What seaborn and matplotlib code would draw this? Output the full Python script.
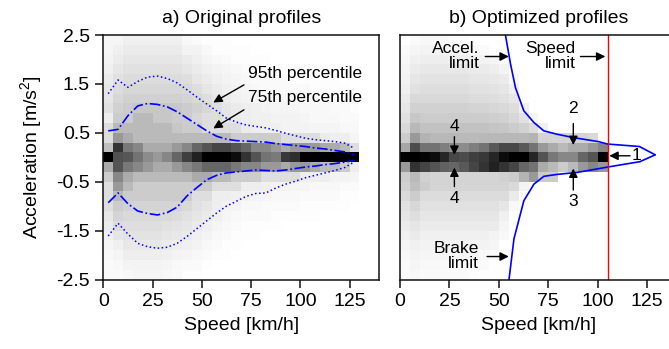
import numpy as np
import pandas as pd
import seaborn as sns
import matplotlib.pyplot as plt

# bin centres (5 km/h x 0.2 m/s2)
speed_bins = [2.5, 7.5, 12.5, 17.5, 22.5, 27.5, 32.5, 37.5, 42.5, 47.5, 52.5, 57.5, 62.5,
              67.5, 72.5, 77.5, 82.5, 87.5, 92.5, 97.5, 102.5, 107.5, 112.5, 117.5, 122.5, 127.5]
accel_bins = [2.4, 2.2, 2.0, 1.8, 1.6, 1.4, 1.2, 1.0, 0.8, 0.6, 0.4, 0.2, 0.0,
              -0.2, -0.4, -0.6, -0.8, -1.0, -1.2, -1.4, -1.6, -1.8, -2.0, -2.2, -2.4]

# shading of each cell (0 = white, 100 = black), rows follow accel_bins
orig_grid = [
    [4, 4, 6, 6, 6, 6, 6, 6, 3, 2, 1, 1, 1, 0, 0, 0, 0, 0, 0, 0, 0, 0, 0, 0, 0, 0],
    [4, 6, 8, 8, 8, 8, 8, 8, 5, 5, 3, 1, 1, 1, 1, 0, 0, 0, 0, 0, 0, 0, 0, 0, 0, 0],
    [5, 8, 10, 10, 10, 10, 10, 10, 8, 6, 4, 3, 2, 1, 1, 1, 1, 0, 0, 0, 0, 0, 0, 0, 0, 0],
    [6, 10, 12, 12, 12, 12, 12, 12, 10, 8, 6, 5, 4, 3, 2, 2, 2, 1, 1, 1, 1, 1, 0, 0, 0, 0],
    [8, 12, 14, 14, 14, 14, 14, 14, 13, 10, 8, 6, 5, 4, 3, 2, 2, 2, 2, 1, 1, 1, 1, 1, 0, 0],
    [10, 14, 16, 16, 16, 16, 16, 16, 15, 13, 10, 8, 6, 5, 4, 3, 2, 2, 2, 2, 2, 1, 1, 1, 1, 0],
    [10, 16, 18, 18, 18, 18, 18, 18, 17, 15, 13, 10, 8, 6, 5, 4, 3, 3, 3, 2, 2, 2, 2, 1, 1, 1],
    [12, 18, 20, 22, 22, 22, 22, 22, 20, 18, 16, 13, 10, 8, 7, 6, 5, 4, 4, 4, 3, 3, 3, 2, 2, 1],
    [7, 20, 20, 27, 27, 22, 22, 20, 20, 16, 13, 13, 10, 8, 7, 6, 6, 5, 5, 5, 4, 3, 3, 3, 2, 2],
    [13, 27, 27, 27, 27, 27, 27, 22, 20, 20, 13, 13, 13, 13, 8, 7, 6, 6, 5, 5, 5, 4, 4, 4, 3, 3],
    [13, 40, 33, 27, 27, 27, 27, 27, 27, 27, 27, 27, 27, 20, 20, 20, 20, 20, 13, 13, 13, 13, 8, 7, 7, 4],
    [25, 80, 53, 47, 33, 33, 33, 40, 47, 60, 67, 73, 73, 67, 60, 47, 47, 40, 33, 40, 40, 40, 33, 33, 27, 13],
    [100, 68, 66, 55, 45, 40, 47, 60, 75, 87, 100, 100, 100, 95, 80, 67, 55, 52, 78, 82, 100, 100, 100, 100, 100, 100],
    [33, 67, 53, 47, 40, 33, 33, 40, 47, 53, 60, 60, 60, 53, 47, 47, 40, 40, 33, 40, 40, 33, 27, 27, 20, 7],
    [20, 47, 33, 27, 27, 27, 27, 27, 27, 33, 33, 27, 27, 20, 20, 20, 13, 13, 13, 13, 7, 7, 7, 5, 5, 4],
    [13, 40, 27, 20, 20, 20, 20, 20, 20, 20, 20, 13, 13, 13, 7, 7, 6, 5, 5, 4, 4, 3, 3, 3, 2, 2],
    [13, 27, 20, 20, 20, 20, 20, 20, 20, 13, 13, 7, 7, 6, 5, 4, 4, 3, 3, 3, 2, 2, 2, 2, 1, 1],
    [13, 20, 18, 17, 17, 17, 17, 17, 15, 12, 10, 7, 5, 4, 3, 3, 2, 2, 2, 2, 1, 1, 1, 1, 1, 0],
    [10, 17, 15, 15, 15, 15, 15, 14, 12, 10, 8, 6, 4, 3, 2, 2, 2, 1, 1, 1, 1, 1, 0, 0, 0, 0],
    [8, 14, 13, 13, 13, 13, 12, 11, 10, 8, 6, 4, 3, 2, 1, 1, 1, 1, 0, 0, 0, 0, 0, 0, 0, 0],
    [6, 10, 11, 11, 11, 11, 10, 9, 8, 6, 5, 3, 2, 1, 1, 1, 0, 0, 0, 0, 0, 0, 0, 0, 0, 0],
    [4, 6, 9, 9, 9, 9, 8, 7, 6, 5, 3, 2, 1, 1, 0, 0, 0, 0, 0, 0, 0, 0, 0, 0, 0, 0],
    [3, 4, 7, 7, 7, 7, 6, 5, 4, 3, 2, 1, 1, 0, 0, 0, 0, 0, 0, 0, 0, 0, 0, 0, 0, 0],
    [2, 3, 5, 5, 5, 5, 4, 3, 2, 2, 1, 0, 0, 0, 0, 0, 0, 0, 0, 0, 0, 0, 0, 0, 0, 0],
    [2, 2, 3, 4, 4, 4, 3, 2, 1, 1, 0, 0, 0, 0, 0, 0, 0, 0, 0, 0, 0, 0, 0, 0, 0, 0],
]

opt_grid = [
    [0, 2, 3, 3, 3, 2, 2, 0, 0, 0, 0, 0, 0, 0, 0, 0, 0, 0, 0, 0, 0, 0, 0, 0, 0, 0],
    [2, 4, 5, 5, 5, 5, 4, 3, 2, 0, 0, 0, 0, 0, 0, 0, 0, 0, 0, 0, 0, 0, 0, 0, 0, 0],
    [3, 6, 7, 7, 7, 7, 6, 6, 5, 4, 2, 0, 0, 0, 0, 0, 0, 0, 0, 0, 0, 0, 0, 0, 0, 0],
    [4, 8, 9, 9, 9, 9, 9, 8, 8, 7, 5, 0, 0, 0, 0, 0, 0, 0, 0, 0, 0, 0, 0, 0, 0, 0],
    [5, 10, 11, 11, 11, 11, 11, 10, 10, 9, 8, 3, 0, 0, 0, 0, 0, 0, 0, 0, 0, 0, 0, 0, 0, 0],
    [6, 12, 13, 13, 13, 13, 13, 12, 12, 11, 10, 6, 0, 0, 0, 0, 0, 0, 0, 0, 0, 0, 0, 0, 0, 0],
    [8, 15, 15, 15, 15, 15, 15, 14, 14, 13, 12, 10, 0, 0, 0, 0, 0, 0, 0, 0, 0, 0, 0, 0, 0, 0],
    [10, 18, 18, 18, 18, 18, 18, 17, 17, 16, 15, 13, 6, 0, 0, 0, 0, 0, 0, 0, 0, 0, 0, 0, 0, 0],
    [12, 22, 20, 20, 20, 20, 20, 20, 20, 19, 18, 16, 12, 4, 0, 0, 0, 0, 0, 0, 0, 0, 0, 0, 0, 0],
    [15, 28, 24, 24, 24, 24, 24, 24, 24, 23, 22, 20, 18, 14, 6, 0, 0, 0, 0, 0, 0, 0, 0, 0, 0, 0],
    [20, 40, 30, 28, 28, 28, 27, 27, 28, 28, 28, 28, 28, 30, 17, 17, 17, 17, 17, 15, 0, 0, 0, 0, 0, 0],
    [35, 70, 55, 55, 50, 45, 45, 50, 55, 65, 72, 72, 65, 55, 40, 33, 27, 33, 33, 40, 47, 0, 0, 0, 0, 0],
    [100, 100, 98, 95, 85, 72, 70, 75, 78, 85, 95, 100, 100, 85, 67, 53, 47, 47, 60, 67, 100, 0, 0, 0, 0, 0],
    [40, 80, 73, 67, 62, 60, 65, 73, 80, 87, 80, 73, 60, 55, 33, 27, 20, 27, 40, 47, 40, 0, 0, 0, 0, 0],
    [20, 27, 18, 17, 17, 17, 17, 17, 17, 17, 18, 20, 30, 40, 20, 20, 0, 0, 0, 0, 0, 0, 0, 0, 0, 0],
    [18, 25, 20, 17, 17, 17, 17, 17, 17, 17, 17, 15, 5, 0, 0, 0, 0, 0, 0, 0, 0, 0, 0, 0, 0, 0],
    [15, 20, 14, 14, 14, 14, 14, 14, 14, 14, 14, 8, 0, 0, 0, 0, 0, 0, 0, 0, 0, 0, 0, 0, 0, 0],
    [12, 16, 12, 12, 12, 12, 12, 12, 12, 12, 10, 3, 0, 0, 0, 0, 0, 0, 0, 0, 0, 0, 0, 0, 0, 0],
    [10, 13, 10, 10, 10, 10, 10, 10, 10, 10, 6, 0, 0, 0, 0, 0, 0, 0, 0, 0, 0, 0, 0, 0, 0, 0],
    [8, 10, 8, 8, 8, 8, 8, 8, 8, 8, 4, 0, 0, 0, 0, 0, 0, 0, 0, 0, 0, 0, 0, 0, 0, 0],
    [6, 8, 6, 6, 6, 6, 6, 6, 6, 5, 3, 0, 0, 0, 0, 0, 0, 0, 0, 0, 0, 0, 0, 0, 0, 0],
    [4, 6, 5, 5, 5, 5, 5, 5, 5, 4, 0, 0, 0, 0, 0, 0, 0, 0, 0, 0, 0, 0, 0, 0, 0, 0],
    [3, 5, 4, 4, 4, 4, 4, 4, 3, 2, 0, 0, 0, 0, 0, 0, 0, 0, 0, 0, 0, 0, 0, 0, 0, 0],
    [2, 4, 3, 3, 3, 3, 3, 3, 2, 0, 0, 0, 0, 0, 0, 0, 0, 0, 0, 0, 0, 0, 0, 0, 0, 0],
    [2, 3, 2, 2, 2, 2, 2, 1, 0, 0, 0, 0, 0, 0, 0, 0, 0, 0, 0, 0, 0, 0, 0, 0, 0, 0],
]

# percentile curves of the original profiles (one value per speed bin)
p95_upper = [1.30, 1.58, 1.43, 1.55, 1.64, 1.66, 1.61, 1.52, 1.38, 1.23, 1.09, 0.95, 0.80,
             0.72, 0.66, 0.63, 0.60, 0.55, 0.49, 0.44, 0.39, 0.36, 0.34, 0.32, 0.29, 0.18]
p75_upper = [0.54, 0.57, 0.85, 1.05, 1.10, 1.08, 1.03, 0.93, 0.80, 0.67, 0.54, 0.43, 0.37,
             0.34, 0.33, 0.32, 0.31, 0.28, 0.26, 0.24, 0.22, 0.19, 0.17, 0.14, 0.11, 0.05]
p75_lower = [-0.93, -0.73, -0.95, -1.10, -1.15, -1.18, -1.13, -1.02, -0.79, -0.62, -0.46, -0.37, -0.32,
             -0.30, -0.28, -0.26, -0.27, -0.28, -0.26, -0.23, -0.20, -0.18, -0.15, -0.13, -0.10, -0.06]
p95_lower = [-1.61, -1.35, -1.57, -1.76, -1.83, -1.86, -1.84, -1.76, -1.62, -1.46, -1.30, -1.14, -1.00,
             -0.90, -0.80, -0.74, -0.73, -0.63, -0.55, -0.49, -0.42, -0.37, -0.32, -0.27, -0.21, -0.09]

# vehicle limits of the optimized profiles
accel_lim_speed = [52.8, 53.3, 55.9, 58.4, 62.6, 67.7, 72.7, 79.5, 87.9, 100.3, 105.0, 121.0, 129.0]
accel_lim_acc = [2.6, 2.5, 1.9, 1.42, 0.95, 0.71, 0.54, 0.47, 0.40, 0.32, 0.27, 0.22, 0.05]
brake_lim_speed = [54.8, 57.6, 62.6, 67.7, 72.7, 79.5, 89.6, 105.0, 121.3, 129.0]
brake_lim_acc = [-2.6, -1.67, -0.89, -0.55, -0.39, -0.35, -0.31, -0.20, -0.09, 0.05]
speed_limit = 105


def to_long(grid):
    df = pd.DataFrame(grid, index=accel_bins, columns=speed_bins).stack().reset_index()
    df.columns = ['accel', 'speed', 'w']
    return df


sns.set_theme(style='ticks')
plt.rcParams['font.family'] = ['Liberation Sans', 'DejaVu Sans']
plt.rcParams['mathtext.fontset'] = 'custom'
plt.rcParams['mathtext.rm'] = 'Liberation Sans'
plt.rcParams['axes.unicode_minus'] = False
plt.rcParams['axes.edgecolor'] = '#111111'
plt.rcParams['axes.linewidth'] = 1.1
for key in ['text.color', 'axes.labelcolor', 'xtick.color', 'ytick.color']:
    plt.rcParams[key] = 'black'

grey = sns.blend_palette(['white', 'black'], as_cmap=True)

fig = plt.figure(figsize=(6.69, 3.49), dpi=100)
ax1 = fig.add_axes([0.1544, 0.1991, 0.4123, 0.7006])
ax2 = fig.add_axes([0.5979, 0.1991, 0.4140, 0.7006])

for ax, grid in [(ax1, orig_grid), (ax2, opt_grid)]:
    sns.histplot(data=to_long(grid), x='speed', y='accel', weights='w', ax=ax,
                 bins=(26, 25), binrange=((0, 130), (-2.5, 2.5)),
                 cmap=grey, vmin=0, vmax=100)
    ax.set_xlim(0, 140)
    ax.set_ylim(-2.5, 2.5)
    ax.set_xticks([0, 25, 50, 75, 100, 125])
    ax.set_xlabel('Speed [km/h]', fontsize=14, labelpad=5)
    ax.tick_params(direction='out', length=6, width=1.1, labelsize=14, color='#111111')

ax1.set_yticks([-2.5, -1.5, -0.5, 0.5, 1.5, 2.5])
ax1.set_yticklabels(['-2.5', '-1.5', '-0.5', '0.5', '1.5', '2.5'])
ax1.set_ylabel('Acceleration [m/s$^2$]', fontsize=14, labelpad=8)
ax2.set_ylabel('')
ax2.tick_params(axis='y', left=False, labelleft=False)
ax2.spines['right'].set_visible(False)

ax1.set_title('a) Original profiles', fontsize=14, pad=9)
ax2.set_title('b) Optimized profiles', fontsize=14, pad=9)

# percentile curves
ax1.plot(speed_bins, p95_upper, ':', color='blue', lw=1.1)
ax1.plot(speed_bins, p95_lower, ':', color='blue', lw=1.1)
ax1.plot(speed_bins, p75_upper, '-.', color='blue', lw=1.2)
ax1.plot(speed_bins, p75_lower, '-.', color='blue', lw=1.2)

arrow = dict(arrowstyle='-|>', color='black', lw=1.0, mutation_scale=13, shrinkA=0, shrinkB=0)
fs = 12.5
ax1.text(73.5, 1.72, '95th percentile', fontsize=fs, va='center', ha='left')
ax1.text(73.5, 1.23, '75th percentile', fontsize=fs, va='center', ha='left')
ax1.annotate('', xy=(55.8, 1.12), xytext=(71.4, 1.48), arrowprops=arrow)
ax1.annotate('', xy=(55.8, 0.59), xytext=(71.4, 0.97), arrowprops=arrow)

# limits
ax2.plot(accel_lim_speed, accel_lim_acc, color='blue', lw=1.2)
ax2.plot(brake_lim_speed, brake_lim_acc, color='blue', lw=1.2)
ax2.axvline(speed_limit, color='red', lw=1.0)

ax2.text(40.4, 2.07, 'Accel.\nlimit', fontsize=fs, ha='right', va='center', linespacing=1.05)
ax2.annotate('', xy=(55.0, 2.06), xytext=(43.1, 2.06), arrowprops=arrow)
ax2.text(88.6, 2.07, 'Speed\nlimit', fontsize=fs, ha='right', va='center', linespacing=1.05)
ax2.annotate('', xy=(103.8, 2.06), xytext=(91.2, 2.06), arrowprops=arrow)
ax2.text(39.8, -2.02, 'Brake\nlimit', fontsize=fs, ha='right', va='center', linespacing=1.05)
ax2.annotate('', xy=(55.0, -2.03), xytext=(44.0, -2.03), arrowprops=arrow)

# numbered remarks
ax2.text(119.7, 0.03, '1', fontsize=fs, ha='center', va='center')
ax2.annotate('', xy=(105.8, 0.03), xytext=(116.3, 0.03), arrowprops=arrow)
ax2.text(87.6, 1.0, '2', fontsize=fs, ha='center', va='center')
ax2.annotate('', xy=(87.6, 0.25), xytext=(87.6, 0.69), arrowprops=arrow)
ax2.text(87.6, -0.91, '3', fontsize=fs, ha='center', va='center')
ax2.annotate('', xy=(87.6, -0.23), xytext=(87.6, -0.67), arrowprops=arrow)
ax2.text(27.5, 0.62, '4', fontsize=fs, ha='center', va='center')
ax2.annotate('', xy=(27.5, 0.05), xytext=(27.5, 0.42), arrowprops=arrow)
ax2.text(27.5, -0.84, '4', fontsize=fs, ha='center', va='center')
ax2.annotate('', xy=(27.5, -0.21), xytext=(27.5, -0.60), arrowprops=arrow)

fig.savefig('out.png', dpi=100)
